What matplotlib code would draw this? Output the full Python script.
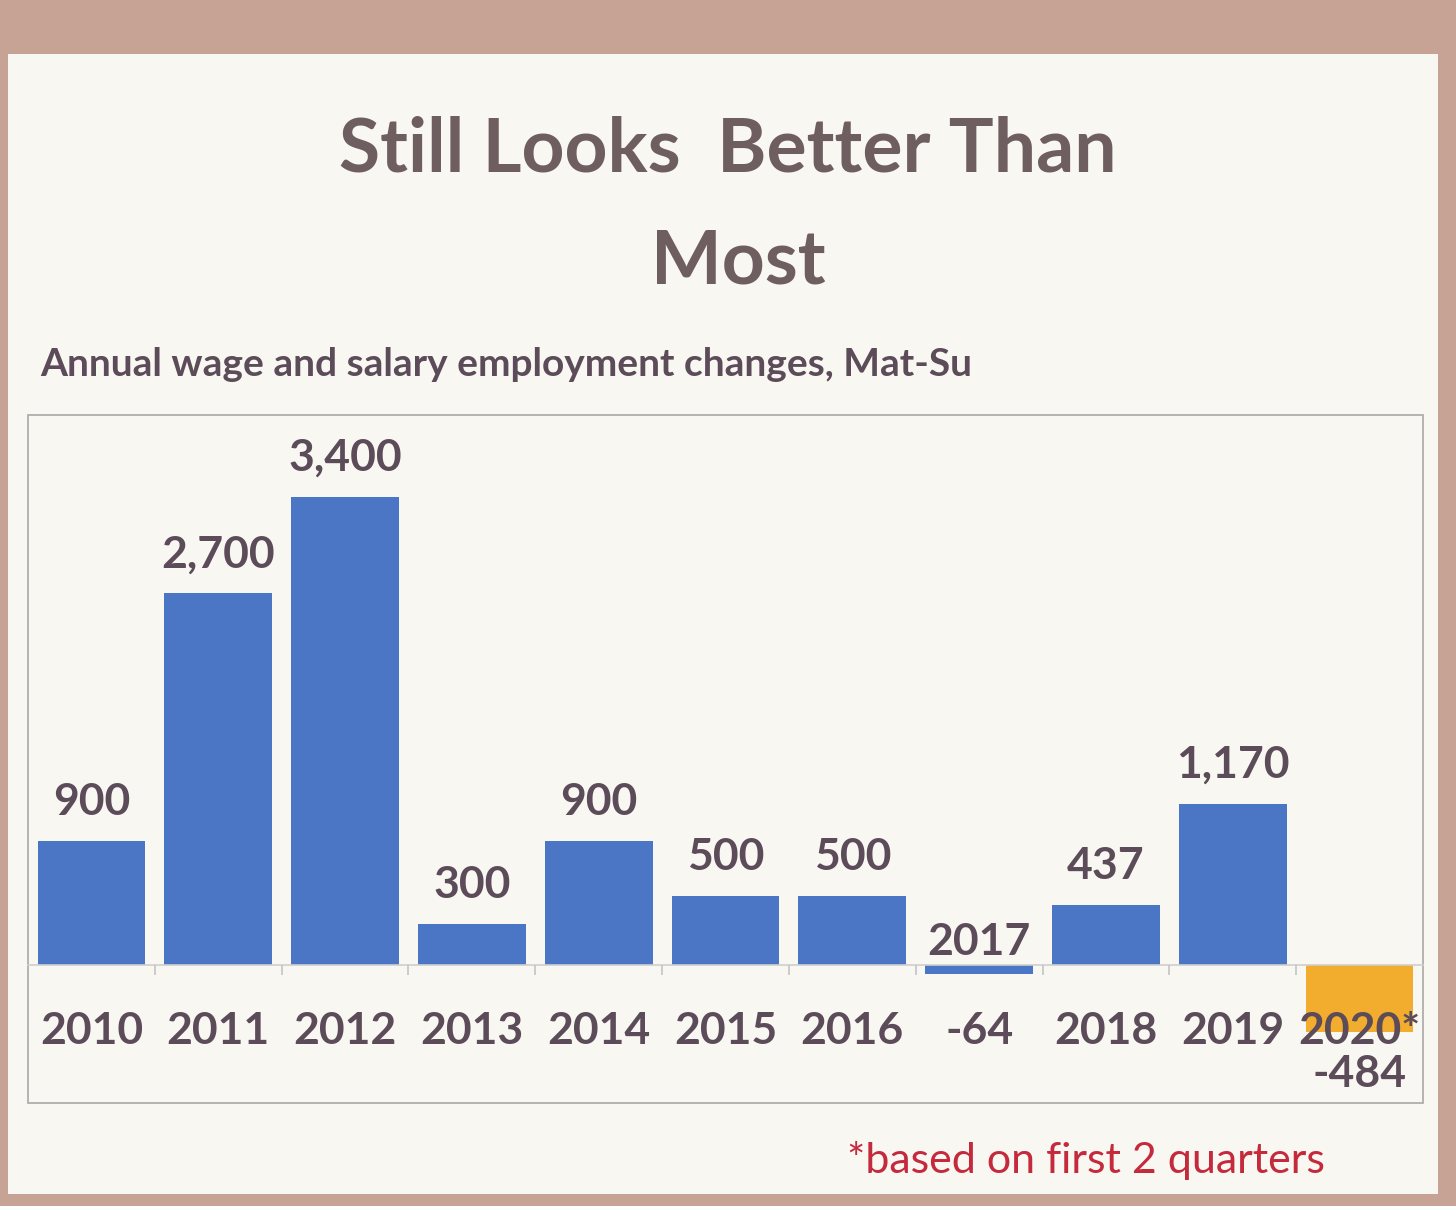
import matplotlib
matplotlib.use("Agg")
import matplotlib.pyplot as plt
from matplotlib.patches import Rectangle
import numpy as np

# ---- data ----
years = ["2010", "2011", "2012", "2013", "2014", "2015", "2016", "2017", "2018", "2019", "2020*"]
values = [900, 2700, 3400, 300, 900, 500, 500, -64, 437, 1170, -484]
# category row as shown on the slide (2017's row shows its value)
row_labels = ["2010", "2011", "2012", "2013", "2014", "2015", "2016", "-64", "2018", "2019", "2020*"]
# labels drawn next to the bars
bar_labels = ["900", "2,700", "3,400", "300", "900", "500", "500", "2017", "437", "1,170", "-484"]
highlight = "2020*"

title_lines = ["Still Looks  Better Than", "Most"]
subtitle = "Annual wage and salary employment changes, Mat-Su"
footnote = "*based on first 2 quarters"

FONT = "Lato"
TXT = "#5c4b58"
TITLE_C = "#6e5e5f"
BLUE = "#4b76c6"
ORANGE = "#f2ad2f"
RED = "#c42a3c"
LABEL_FS = 32

W, H = 1456, 1206
fig = plt.figure(figsize=(W / 100, H / 100), dpi=100, facecolor="#c6a395")

# slide area
fig.patches.append(Rectangle((8 / W, 12 / H), 1430 / W, 1140 / H, transform=fig.transFigure,
                             facecolor="#f8f7f2", edgecolor="none", zorder=-5))

fig.text(728 / W, 1 - 150 / H, title_lines[0], ha="center", va="center", fontsize=54,
         fontweight="bold", family=FONT, color=TITLE_C)
fig.text(738 / W, 1 - 262 / H, title_lines[1], ha="center", va="center", fontsize=54,
         fontweight="bold", family=FONT, color=TITLE_C)
fig.text(40 / W, 1 - 365 / H, subtitle, ha="left", va="center", fontsize=28,
         fontweight="bold", family=FONT, color=TXT)
fig.text(1325 / W, 1 - 1160 / H, footnote, ha="right", va="center", fontsize=31,
         family=FONT, color=RED)

ax = fig.add_axes([28 / W, 1 - 1103 / H, 1395 / W, (1103 - 415) / H])
ax.set_facecolor("none")
ax.set_zorder(2)
ax.set_axisbelow(False)
x = np.arange(len(years))
colors = [ORANGE if y == highlight else BLUE for y in years]
ax.bar(x, values, width=0.85, color=colors, zorder=2)

ax.set_xlim(-0.5, len(years) - 0.5)
ax.set_ylim(-1003, 3996)

for s in ["left", "right", "top"]:
    ax.spines[s].set_visible(False)
ax.spines["bottom"].set_position(("data", 0))
ax.spines["bottom"].set_color("#cfcfcf")
ax.spines["bottom"].set_linewidth(1.2)
ax.set_yticks([])
ax.set_xticks(x)
ax.set_xticklabels(row_labels, fontsize=LABEL_FS, fontweight="bold", family=FONT, color=TXT)
ax.tick_params(axis="x", which="major", length=0, pad=33)
ax.set_xticks(x[:-1] + 0.5, minor=True)
ax.tick_params(axis="x", which="minor", length=7, color="#c4c4c4", width=1.2)

# outer chart box
ax.add_patch(Rectangle((0, 0), 1, 1, transform=ax.transAxes, fill=False,
                       edgecolor="#a8a8a8", linewidth=1.2, clip_on=False, zorder=1))

for xi, v, lab, yr in zip(x, values, bar_labels, years):
    if lab == yr:
        # label shown above the tiny bar at zero line
        ax.annotate(lab, (xi, 0), xytext=(0, 3), textcoords="offset pixels",
                    ha="center", va="bottom", fontsize=LABEL_FS, fontweight="bold",
                    family=FONT, color=TXT)
    elif v >= 0:
        ax.annotate(lab, (xi, v), xytext=(0, 19), textcoords="offset pixels",
                    ha="center", va="bottom", fontsize=LABEL_FS, fontweight="bold",
                    family=FONT, color=TXT)
    else:
        ax.annotate(lab, (xi, v), xytext=(0, -22), textcoords="offset pixels",
                    ha="center", va="top", fontsize=LABEL_FS, fontweight="bold",
                    family=FONT, color=TXT)

fig.savefig("out.png", dpi=100, facecolor=fig.get_facecolor())
